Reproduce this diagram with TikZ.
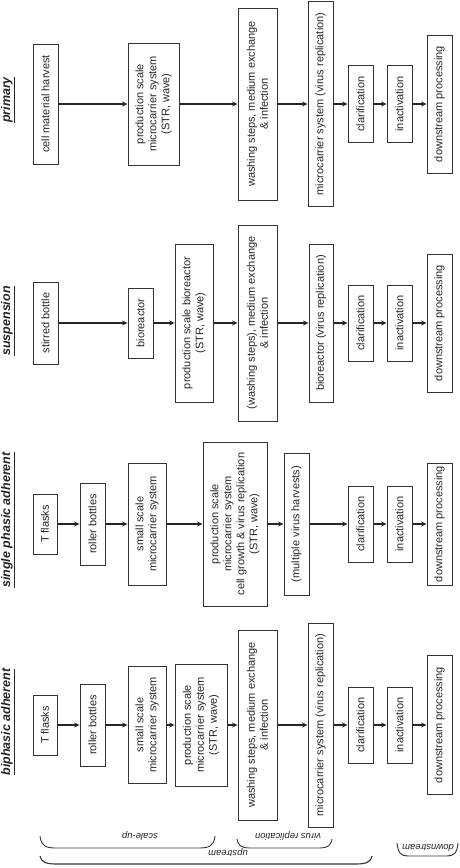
\documentclass[tikz,border=0pt]{standalone}
\usepackage{fontspec}
\setmainfont{Liberation Sans}
\usetikzlibrary{arrows.meta}
\tikzset{
  box/.style={draw=black!80, line width=0.9pt, rotate=90, align=center, inner sep=0pt, text=black!85, font=\fontsize{11}{13}\selectfont},
  arr/.style={-{Stealth[length=5.5pt,width=5pt]}, line width=1.4pt, draw=black!85},
  ttl/.style={rotate=90, text=black!85, font=\fontsize{12.5}{14}\selectfont\bfseries\itshape},
  brl/.style={rotate=180, text=black!85, font=\fontsize{9.5}{11}\selectfont\itshape},
  brc/.style={draw=black!80, line width=0.9pt},
}
\newcommand{\bx}[6]{\node[box, minimum width=#4pt, minimum height=#5pt] (#1) at (#2,#3) {#6};}
\begin{document}
\begin{tikzpicture}[x=1pt,y=-1pt]
\useasboundingbox (0,0) rectangle (460,868);

% titles
\node[ttl] (t1) at (8,100) {\underline{primary}};
\node[ttl] (t2) at (8,321) {\underline{suspension}};
\node[ttl] (t3) at (8,520) {\underline{single phasic adherent}};
\node[ttl] (t4) at (8,722) {\underline{biphasic adherent}};

% primary (cy=104)
\bx{p1}{45.5}{104}{120}{25}{cell material harvest}
\bx{p2}{153.5}{104}{122}{51}{production scale\\microcarrier system\\(STR, wave)}
\bx{p3}{257.5}{104}{192}{39}{washing steps, medium exchange\\\& infection}
\bx{p4}{320.5}{104}{205}{25}{microcarrier system (virus replication)}
\bx{p5}{360.5}{104}{77}{25}{clarification}
\bx{p6}{399.5}{104}{77}{25}{inactivation}
\bx{p7}{439.5}{104}{138}{25}{downstream processing}

% suspension (cy=323)
\bx{s1}{45.5}{323}{82}{25}{stirred bottle}
\bx{s2}{140.5}{323}{70}{25}{bioreactor}
\bx{s3}{194}{323}{158}{38}{production scale bioreactor\\(STR, wave)}
\bx{s4}{257.5}{323}{196}{39}{(washing steps), medium exchange\\\& infection}
\bx{s5}{321}{323}{158}{24}{bioreactor (virus replication)}
\bx{s6}{360.5}{323}{76}{25}{clarification}
\bx{s7}{399.5}{323}{76}{25}{inactivation}
\bx{s8}{439.5}{323}{138}{25}{downstream processing}

% single phasic (cy=524)
\bx{a1}{45}{524}{60}{24}{T flasks}
\bx{a2}{92.5}{524}{82}{25}{roller bottles}
\bx{a3}{147}{524}{122}{38}{small scale\\microcarrier system}
\bx{a4}{235}{524}{164}{64}{production scale\\microcarrier system\\cell growth \& virus replication\\(STR, wave)}
\bx{a5}{296.5}{524}{142}{25}{(multiple virus harvests)}
\bx{a6}{360.5}{524}{76}{25}{clarification}
\bx{a7}{399.5}{524}{76}{25}{inactivation}
\bx{a8}{439.5}{524}{122}{25}{downstream processing}

% biphasic (cy=725)
\bx{b1}{45}{725}{60}{24}{T flasks}
\bx{b2}{92.5}{725}{82}{25}{roller bottles}
\bx{b3}{147}{725}{117}{38}{small scale\\microcarrier system}
\bx{b4}{201}{725}{122}{52}{production scale\\microcarrier system\\(STR, wave)}
\bx{b5}{257.5}{725}{190}{39}{washing steps, medium exchange\\\& infection}
\bx{b6}{320.5}{725}{204}{25}{microcarrier system (virus replication)}
\bx{b7}{360.5}{725}{76}{25}{clarification}
\bx{b8}{399.5}{725}{76}{25}{inactivation}
\bx{b9}{439.5}{725}{139}{25}{downstream processing}

% arrows
\foreach \u/\v in {p1/p2,p2/p3,p3/p4,p4/p5,p5/p6,p6/p7,
                   s1/s2,s2/s3,s3/s4,s4/s5,s5/s6,s6/s7,s7/s8,
                   a1/a2,a2/a3,a3/a4,a4/a5,a5/a6,a6/a7,a7/a8,
                   b1/b2,b2/b3,b3/b4,b4/b5,b5/b6,b6/b7,b7/b8,b8/b9}
  \draw[arr] (\u) -- (\v);

% braces
\draw[brc] (40,836) .. controls (41,846) and (46,848) .. (56,848) -- (199,848) .. controls (209,848) and (214,846) .. (215,836);
\draw[brc, line width=1.1pt] (40,856) .. controls (41,862) and (46,864) .. (56,864) -- (356,864) .. controls (366,864) and (371,862) .. (372,856);
\draw[brc] (237,839) .. controls (238,846) and (242,848) .. (250,848) -- (319,848) .. controls (327,848) and (331,846) .. (332,839);
\draw[brc] (397,843) .. controls (398,853) and (401,856) .. (408,856) -- (447,856) .. controls (454,856) and (457,853) .. (458,843);

\node[brl] (l1) at (140,836) {scale-up};
\node[brl] (l2) at (228,853) {upstream};
\node[brl] (l3) at (288,836) {virus replication};
\node[brl] (l4) at (428,848) {downstream};
\end{tikzpicture}
\end{document}
